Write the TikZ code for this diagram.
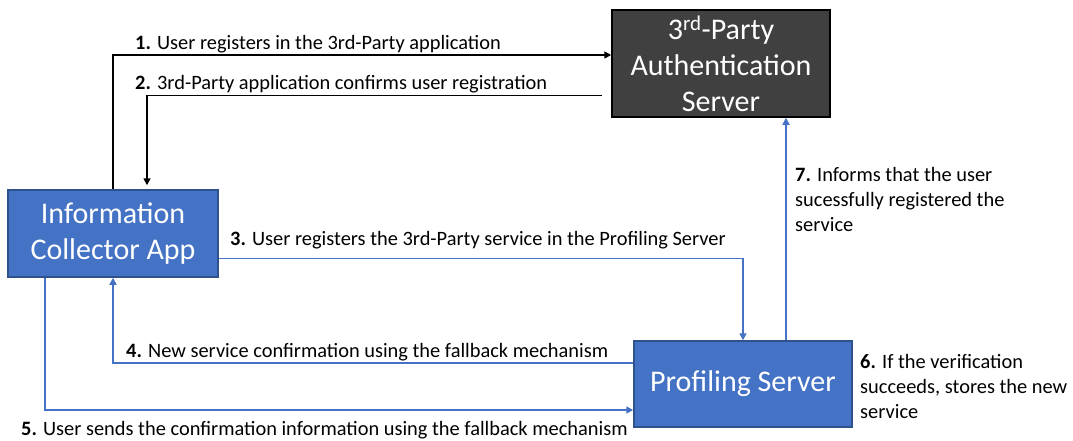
\documentclass[tikz,border=0pt]{standalone}
\usepackage{fontspec}
\setmainfont{Carlito}
\usetikzlibrary{arrows.meta}
\definecolor{pblue}{HTML}{4472C4}
\definecolor{pbord}{HTML}{2F528F}
\definecolor{dgray}{HTML}{404040}
\begin{document}
\begin{tikzpicture}[x=1pt,y=-1pt,
  box/.style={draw,line width=1.5pt,minimum width=#1,text=white,align=center,
    font=\fontsize{30}{36}\selectfont,inner sep=0pt},
  bluebox/.style={box=#1,fill=pblue,draw=pbord},
  darkbox/.style={box=#1,fill=dgray,draw=black},
  blk/.style={draw=black,line width=1.6pt,-{Triangle[length=7pt,width=7pt]}},
  blu/.style={draw=pblue,line width=1.6pt,-{Triangle[length=7pt,width=7pt]}},
  lbl/.style={font=\fontsize{20.4}{25}\selectfont,inner sep=0pt,align=left}]
\useasboundingbox (0,0) rectangle (1073,440);
\node[darkbox=218pt,minimum height=107pt] (auth) at (721,63.5) {3\textsuperscript{rd}-Party\\Authentication\\Server};
\node[bluebox=210pt,minimum height=87pt] (info) at (113,233.5) {Information\\Collector App};
\node[bluebox=218pt,minimum height=86pt] (prof) at (743,384) {Profiling Server};
% connectors
\draw[blk] (info.north) |- ([yshift=8.5pt]auth.west);
\draw[blk,shorten >=4pt] ([xshift=-9pt,yshift=-32pt]auth.west) -| ([xshift=34pt]info.north);
\draw[blu] ([yshift=-25pt]info.east) -| (prof.north);
\draw[blu] ([yshift=21pt]prof.west) -| (info.south);
\draw[blu] ([xshift=-68pt]info.south) |- ([yshift=-26pt]prof.west);
\draw[blu] ([xshift=43pt]prof.north) -- ([xshift=43pt]prof.north |- auth.south);
% labels
\node[lbl,anchor=base west] (l1) at (135,49) {\textbf{1.} User registers in the 3rd-Party application};
\node[lbl,anchor=base west] (l2) at (135,89) {\textbf{2.} 3rd-Party application confirms user registration};
\node[lbl,anchor=base west] (l3) at (230,245) {\textbf{3.} User registers the 3rd-Party service in the Profiling Server};
\node[lbl,anchor=base west] (l4) at (126,357) {\textbf{4.} New service confirmation using the fallback mechanism};
\node[lbl,anchor=base west] (l5) at (21,435) {\textbf{5.} User sends the confirmation information using the fallback mechanism};
\node[lbl,anchor=north west] (l6) at (860,354) {\textbf{6.} If the verification\\succeeds, stores the new\\service};
\node[lbl,anchor=north west] (l7) at (795,167) {\textbf{7.} Informs that the user\\sucessfully registered the\\service};
\end{tikzpicture}
\end{document}
